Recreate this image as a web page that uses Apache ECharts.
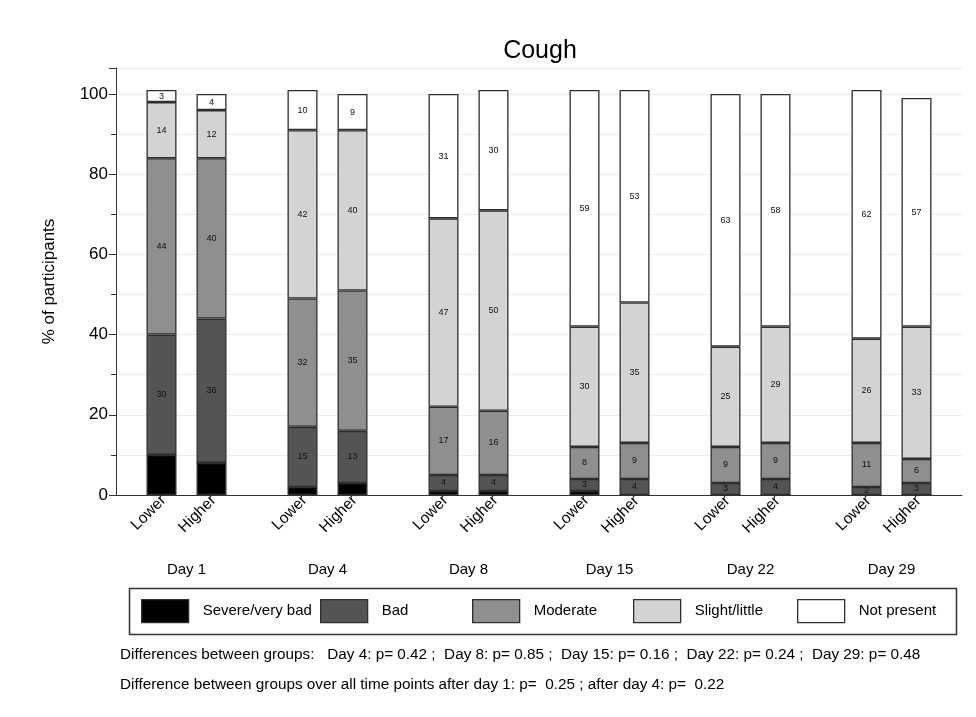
<!DOCTYPE html>
<html>
<head>
<meta charset="utf-8">
<title>Cough</title>
<script src="https://cdn.jsdelivr.net/npm/echarts@6/dist/echarts.min.js"></script>
<style>
  html, body { margin: 0; padding: 0; background: #ffffff; }
  #chart { width: 976px; height: 717px; }
</style>
</head>
<body>
<div id="chart"></div>
<script>
// Time points and the two comparison groups
const days = ['Day 1', 'Day 4', 'Day 8', 'Day 15', 'Day 22', 'Day 29'];
const groups = ['Lower', 'Higher'];
const levels = ['Severe/very bad', 'Bad', 'Moderate', 'Slight/little', 'Not present'];

// % of participants per cough severity, Lower group
const lowerSevere     = [10, 2, 1, 1, 0, 0];
const lowerBad        = [30, 15, 4, 3, 3, 2];
const lowerModerate   = [44, 32, 17, 8, 9, 11];
const lowerSlight     = [14, 42, 47, 30, 25, 26];
const lowerNotPresent = [3, 10, 31, 59, 63, 62];

// % of participants per cough severity, Higher group
const higherSevere     = [8, 3, 1, 0, 0, 0];
const higherBad        = [36, 13, 4, 4, 4, 3];
const higherModerate   = [40, 35, 16, 9, 9, 6];
const higherSlight     = [12, 40, 50, 35, 29, 33];
const higherNotPresent = [4, 9, 30, 53, 58, 57];

// Y axis tick labels
const yTicks = [0, 20, 40, 60, 80, 100];

// Footnote lines
const noteLines = [
  'Differences between groups:   Day 4: p= 0.42 ;  Day 8: p= 0.85 ;  Day 15: p= 0.16 ;  Day 22: p= 0.24 ;  Day 29: p= 0.48',
  'Difference between groups over all time points after day 1: p=  0.25 ; after day 4: p=  0.22'
];

const groupValues = [
  [lowerSevere, lowerBad, lowerModerate, lowerSlight, lowerNotPresent],
  [higherSevere, higherBad, higherModerate, higherSlight, higherNotPresent]
];

const levelColors = ['#000000', '#545454', '#8f8f8f', '#d3d3d3', '#ffffff'];
const edgeColor = '#2e2e2e';
const font = '"Liberation Sans", Arial, sans-serif';

const series = [];
groups.forEach(function (g, gi) {
  levels.forEach(function (lv, li) {
    const s = {
      name: lv,
      type: 'bar',
      stack: g,
      data: groupValues[gi][li],
      barWidth: 30,
      barGap: '66.7%',
      itemStyle: { color: levelColors[li], borderColor: edgeColor, borderWidth: 1.3 },
      label: {
        show: true,
        position: 'inside',
        fontSize: 9,
        color: '#111111',
        fontFamily: font
      }
    };
    if (li === 0) {
      // bottom segment carries the group name under each bar
      s.label = {
        show: true,
        position: 'bottom',
        distance: 5,
        rotate: 45,
        align: 'right',
        verticalAlign: 'middle',
        offset: [3, 0],
        fontSize: 15.5,
        color: '#000000',
        fontFamily: font,
        formatter: g
      };
    }
    series.push(s);
  });
});

// one legend block per severity level inside a framed box
const legendLefts = [141, 320, 472, 633, 797];
const legends = levels.map(function (lv, i) {
  return {
    data: [lv],
    left: legendLefts[i],
    top: 599,
    padding: 0,
    itemWidth: 47,
    itemHeight: 23,
    selectedMode: false,
    icon: 'rect',
    itemStyle: { borderColor: edgeColor, borderWidth: 1.3 },
    textStyle: { fontSize: 15, color: '#000000', fontFamily: font, padding: [0, 0, 0, 9] }
  };
});

const chart = echarts.init(document.getElementById('chart'), null, { renderer: 'canvas' });
chart.setOption({
  animation: false,
  backgroundColor: '#ffffff',
  textStyle: { fontFamily: font },
  title: {
    text: 'Cough',
    left: 535,
    textAlign: 'center',
    top: 34,
    textStyle: { fontSize: 25, fontWeight: 'normal', color: '#000000', fontFamily: font }
  },
  legend: legends,
  grid: { left: 116, right: 14, top: 68, bottom: 222 },
  xAxis: {
    type: 'category',
    data: days,
    axisLine: { lineStyle: { color: '#333333', width: 1 } },
    axisTick: { show: false },
    axisLabel: { margin: 67, fontSize: 15, color: '#000000', fontFamily: font },
    splitLine: { show: false }
  },
  yAxis: {
    type: 'value',
    min: 0,
    max: 106.5,
    interval: 20,
    name: '% of participants',
    nameLocation: 'middle',
    nameGap: 58,
    nameTextStyle: { fontSize: 17, color: '#000000', fontFamily: font },
    axisLine: { show: true, lineStyle: { color: '#333333', width: 1 } },
    axisTick: { show: true, length: 7, lineStyle: { color: '#333333' } },
    minorTick: { show: true, splitNumber: 2, length: 5, lineStyle: { color: '#333333' } },
    axisLabel: {
      fontSize: 17,
      color: '#000000',
      margin: 8,
      fontFamily: font,
      showMaxLabel: false,
      formatter: function (v) { return yTicks.indexOf(v) >= 0 ? String(v) : ''; }
    },
    splitLine: { show: true, lineStyle: { color: '#e4eef2', width: 1 } },
    minorSplitLine: { show: true, lineStyle: { color: '#e4eef2', width: 1 } }
  },
  graphic: [
    {
      type: 'rect',
      left: 127,
      top: 586,
      shape: { width: 827, height: 46 },
      style: { fill: 'none', stroke: '#333333', lineWidth: 1.5 },
      silent: true
    },
    {
      type: 'text',
      left: 120,
      top: 647,
      style: { text: noteLines[0], font: '15.3px ' + font, fill: '#000000' }
    },
    {
      type: 'text',
      left: 120,
      top: 677,
      style: { text: noteLines[1], font: '15.3px ' + font, fill: '#000000' }
    }
  ],
  series: series
});
</script>
</body>
</html>
